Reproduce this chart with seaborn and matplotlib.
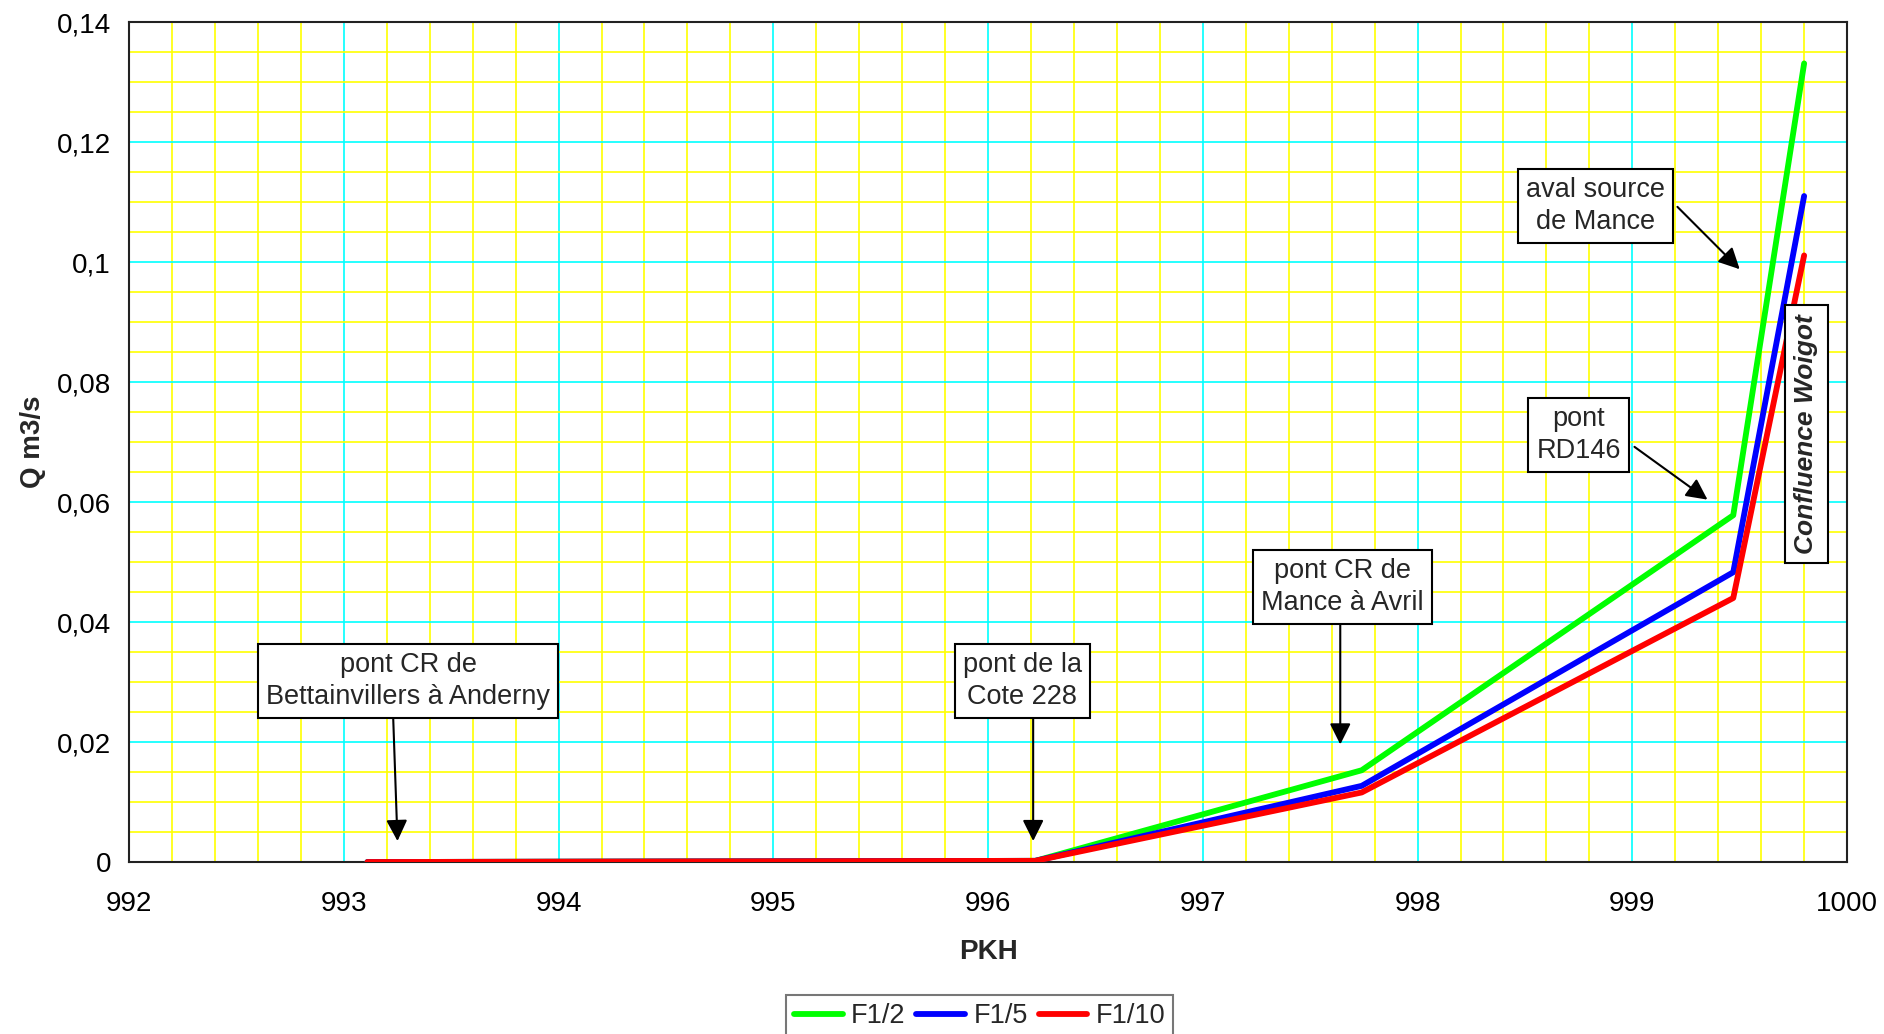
import matplotlib
matplotlib.use("Agg")
import matplotlib.pyplot as plt
import matplotlib.ticker as mticker
from matplotlib.lines import Line2D
import seaborn as sns
import pandas as pd

# ---- data ----
pkh = [993.11, 996.22, 997.74, 999.47, 999.80]
q_f12 = [0.0, 0.0002, 0.0153, 0.0578, 0.1331]
q_f15 = [0.0, 0.0002, 0.0127, 0.0483, 0.1110]
q_f110 = [0.0, 0.0002, 0.0116, 0.0440, 0.1011]
series_names = ["F1/2", "F1/5", "F1/10"]
series_colors = ["#00FF00", "#0000FF", "#FF0000"]

annot_texts = ["pont CR de\nBettainvillers à Anderny", "pont de la\nCote 228",
               "pont CR de\nMance à Avril", "aval source\nde Mance", "pont\nRD146"]
annot_box_xy = [(993.30, 0.0302), (996.16, 0.0302), (997.65, 0.0458),
                (998.83, 0.1094), (998.75, 0.0712)]
annot_arrow_from = [(993.23, 0.0240), (996.21, 0.0240), (997.64, 0.0396),
                    (999.21, 0.1092), (999.01, 0.0692)]
annot_arrow_to = [(993.25, 0.0035), (996.21, 0.0035), (997.64, 0.0196),
                  (999.50, 0.0988), (999.35, 0.0604)]
confluence_text = "Confluence Woigot"
confluence_xy = (999.81, 0.0714)

df = pd.DataFrame({
    "PKH": pkh * 3,
    "Q": q_f12 + q_f15 + q_f110,
    "serie": [s for s in series_names for _ in pkh],
})

sns.set_style("white")
plt.rcParams["font.family"] = ["Liberation Sans", "DejaVu Sans"]

fig = plt.figure(figsize=(18.84, 10.34), dpi=100)
ax = fig.add_axes([0.0685, 0.1663, 0.9804 - 0.0685, 0.9787 - 0.1663])

sns.lineplot(data=df, x="PKH", y="Q", hue="serie", hue_order=series_names,
             palette=series_colors, linewidth=4.2, legend=False, ax=ax,
             zorder=5)

ax.set_xlim(992, 1000)
ax.set_ylim(0, 0.14)
ax.xaxis.set_major_locator(mticker.MultipleLocator(1))
ax.xaxis.set_minor_locator(mticker.MultipleLocator(0.2))
ax.yaxis.set_major_locator(mticker.MultipleLocator(0.02))
ax.yaxis.set_minor_locator(mticker.MultipleLocator(0.005))
ax.yaxis.set_major_formatter(mticker.FuncFormatter(
    lambda v, p: ("%g" % round(v, 4)).replace(".", ",")))
ax.xaxis.set_major_formatter(mticker.FuncFormatter(lambda v, p: "%d" % round(v)))

ax.grid(which="minor", color="#FFFF00", linewidth=1.2, zorder=0)
ax.grid(which="major", color="#00FFFF", linewidth=1.2, zorder=1)
ax.set_axisbelow(True)

ax.tick_params(axis="both", which="major", direction="out", length=7, width=1.2,
               labelsize=20, colors="black")
ax.tick_params(axis="x", which="major", pad=14)
ax.tick_params(axis="y", which="major", pad=6)
ax.tick_params(axis="both", which="minor", length=0)
for s in ax.spines.values():
    s.set_color("#222222")
    s.set_linewidth(1.5)
    s.set_visible(True)

ax.set_xlabel("PKH", fontsize=20, fontweight="bold", labelpad=16)
ax.set_ylabel("Q m3/s", fontsize=20, fontweight="bold", labelpad=8)

box = dict(boxstyle="square,pad=0.3", facecolor="white", edgecolor="black", linewidth=1.5)
for txt, xy, a0, a1 in zip(annot_texts, annot_box_xy, annot_arrow_from, annot_arrow_to):
    ax.annotate("", xy=a1, xytext=a0,
                arrowprops=dict(arrowstyle="-|>", color="black", lw=1.5,
                                mutation_scale=32, shrinkA=0, shrinkB=0),
                zorder=8)
    ax.text(xy[0], xy[1], txt, ha="center", va="center", fontsize=19.5,
            linespacing=1.3, bbox=box, zorder=9)

ax.text(confluence_xy[0], confluence_xy[1], confluence_text, rotation=90,
        ha="center", va="center", fontsize=19, fontweight="bold", style="italic",
        bbox=dict(boxstyle="square,pad=0.35", facecolor="white", edgecolor="black",
                  linewidth=1.5), zorder=9)

handles = [Line2D([0], [0], color=c, lw=4.2) for c in series_colors]
fig.legend(handles, series_names, loc="upper center", bbox_to_anchor=(0.520, 0.0377),
           ncol=3, fontsize=19.5, frameon=True, fancybox=False, edgecolor="#555555",
           handlelength=1.8, handletextpad=0.3, columnspacing=0.4,
           borderpad=0.3, borderaxespad=0)
leg = fig.legends[0]
leg.get_frame().set_linewidth(1.5)

fig.savefig("out.png", dpi=100)
